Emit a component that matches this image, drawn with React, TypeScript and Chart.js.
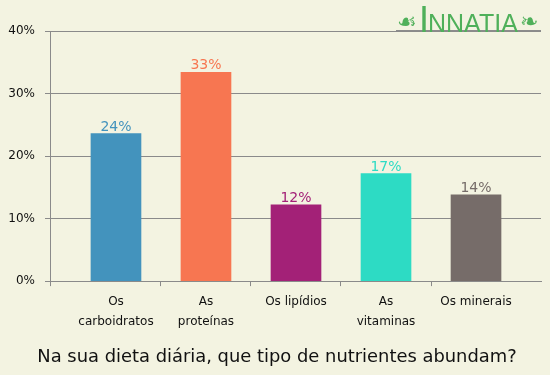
import React, { useEffect, useRef } from "react";
import { Chart, registerables } from "chart.js";

Chart.register(...registerables);

const categories: string[][] = [
  ["Os", "carboidratos"],
  ["As", "proteínas"],
  ["Os lipídios"],
  ["As", "vitaminas"],
  ["Os minerais"],
];
const values: number[] = [23.6, 33.4, 12.2, 17.2, 13.8];
const valueLabels: string[] = ["24%", "33%", "12%", "17%", "14%"];
const barColors: string[] = ["#4393bd", "#f77651", "#a32177", "#2ddbc4", "#766c69"];
const yTicks: number[] = [0, 10, 20, 30, 40];
const titleText = "Na sua dieta diária, que tipo de nutrientes abundam?";

const X_MIN = -0.733;
const X_MAX = 4.722;

const BG = "#f3f3e1";
const GRID = "#8a8a8a";
const FONT = "'DejaVu Sans', Verdana, sans-serif";

const bgPlugin = {
  id: "bg",
  beforeDraw(chart: any) {
    const { ctx, width, height } = chart;
    ctx.save();
    ctx.fillStyle = BG;
    ctx.fillRect(0, 0, width, height);
    ctx.restore();
  },
};

const valueLabelPlugin = {
  id: "valueLabels",
  afterDatasetsDraw(chart: any) {
    const { ctx } = chart;
    const meta = chart.getDatasetMeta(0);
    ctx.save();
    ctx.font = `14px ${FONT}`;
    ctx.textAlign = "center";
    ctx.textBaseline = "alphabetic";
    meta.data.forEach((bar: any, i: number) => {
      ctx.fillStyle = barColors[i];
      ctx.fillText(valueLabels[i], bar.x, bar.y - 3);
    });
    ctx.restore();
  },
};

const logoPlugin = {
  id: "logo",
  afterDraw(chart: any) {
    const { ctx } = chart;
    ctx.save();
    ctx.strokeStyle = "#8c8c8c";
    ctx.lineWidth = 1;
    ctx.beginPath();
    ctx.moveTo(396, 30.5);
    ctx.lineTo(541, 30.5);
    ctx.stroke();
    ctx.fillStyle = "#4fb05a";
    ctx.textBaseline = "alphabetic";
    ctx.textAlign = "left";
    ctx.font = `22px ${FONT}`;
    ctx.fillText("☙", 397, 29);
    ctx.font = `36px 'Liberation Sans Narrow', 'Liberation Sans', sans-serif`;
    ctx.fillText("I", 419, 32);
    ctx.font = `25px 'Liberation Sans', sans-serif`;
    ctx.fillText("NNATIA", 428, 32);
    ctx.font = `22px ${FONT}`;
    ctx.fillText("❧", 520, 29);
    ctx.restore();
  },
};

// x ticks: axis start, then category centres (labelled) and category boundaries (tick marks)
const xTickValues: number[] = [X_MIN, 0, 0.5, 1, 1.5, 2, 2.5, 3, 3.5, 4];

export default function App() {
  const ref = useRef<HTMLCanvasElement | null>(null);
  useEffect(() => {
    document.body.style.margin = "0";
    const canvas = ref.current!;
    const chart = new Chart(canvas, {
      type: "bar",
      data: {
        datasets: [
          {
            data: values.map((v, i) => ({ x: i, y: v })),
            backgroundColor: barColors,
            barThickness: 50,
          },
        ],
      },
      options: {
        animation: false,
        responsive: false,
        devicePixelRatio: 1,
        layout: { padding: { top: 31, right: 0, left: 4, bottom: 0 } },
        plugins: {
          legend: { display: false },
          tooltip: { enabled: false },
          title: {
            display: true,
            text: titleText,
            position: "bottom",
            color: "#111111",
            font: { family: FONT, size: 17.9, weight: "normal", lineHeight: 1.2 },
            padding: { top: 9, bottom: 7 },
          },
        },
        scales: {
          x: {
            type: "linear",
            offset: false,
            min: X_MIN,
            max: X_MAX,
            afterBuildTicks: (scale: any) => {
              scale.ticks = xTickValues.map((v) => ({ value: v }));
            },
            afterFit: (scale: any) => {
              scale.height = 56.4;
            },
            ticks: {
              autoSkip: false,
              maxRotation: 0,
              padding: 6,
              color: "#111111",
              font: { family: FONT, size: 12, lineHeight: 1.67 },
              callback: (v: any) => {
                const n = Number(v);
                return Number.isInteger(n) && n >= 0 ? categories[n] : "";
              },
            },
            grid: {
              offset: false,
              drawOnChartArea: false,
              tickLength: 5,
              tickColor: (ctx: any) => {
                const t = ctx.tick;
                if (!t) return "rgba(0,0,0,0)";
                return Number.isInteger(t.value) && t.value >= 0 ? "rgba(0,0,0,0)" : GRID;
              },
              color: GRID,
            },
            border: { display: true, color: GRID, width: 1 },
          },
          y: {
            min: 0,
            max: 40,
            afterBuildTicks: (scale: any) => {
              scale.ticks = yTicks.map((v) => ({ value: v }));
            },
            afterFit: (scale: any) => {
              scale.width = 46;
            },
            ticks: {
              padding: 10,
              color: "#111111",
              font: { family: FONT, size: 12 },
              callback: (v: any) => `${v}%`,
            },
            grid: {
              color: GRID,
              tickColor: GRID,
              tickLength: 5,
              lineWidth: 1,
            },
            border: { display: true, color: GRID, width: 1 },
          },
          yRight: {
            position: "right",
            display: true,
            min: 0,
            max: 40,
            afterFit: (scale: any) => {
              scale.width = 9;
            },
            ticks: { display: false },
            grid: { display: false },
            border: { display: false },
          },
        },
      },
      plugins: [bgPlugin, valueLabelPlugin, logoPlugin],
    } as any);
    return () => chart.destroy();
  }, []);
  return (
    <div style={{ width: 550, height: 375 }}>
      <canvas ref={ref} width={550} height={375} style={{ display: "block" }} />
    </div>
  );
}
